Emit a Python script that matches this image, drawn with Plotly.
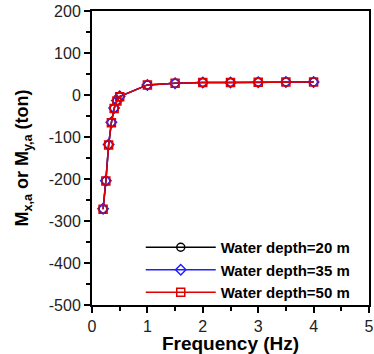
import plotly.graph_objects as go

freq = [0.2, 0.25, 0.3, 0.35, 0.4, 0.45, 0.5, 1.0, 1.5, 2.0, 2.5, 3.0, 3.5, 4.0]
m_20 = [-272, -205, -119, -66, -32, -14, -4, 24, 28, 30, 30, 30.5, 31, 31]
m_35 = [-271, -204, -118, -65, -31, -13, -3, 24, 28, 30, 30, 30.5, 31, 31]
m_50 = [-272, -205, -119, -66, -32, -14, -4, 24, 28, 30, 30, 30.5, 31, 31]
names = ["Water depth=20 m", "Water depth=35 m", "Water depth=50 m"]
y_ticks = [200, 100, 0, -100, -200, -300, -400, -500]
y_ticktext = ["200", "100", "0", "-100", "-200", "-300", "-400", "-500"]
x_ticks = [0, 1, 2, 3, 4, 5]

FONT = "Arial, Liberation Sans, sans-serif"

fig = go.Figure()
styles = [("black", "circle-open"), ("#2020ff", "diamond-open"), ("#e00000", "square-open")]
for y, name, (c, sym) in zip([m_20, m_35, m_50], names, styles):
    fig.add_trace(go.Scatter(
        x=freq, y=y, name="<b>" + name + "</b>", mode="lines+markers",
        line=dict(color=c, width=1.5),
        marker=dict(symbol=sym, size=8, color=c, line=dict(width=1.5, color=c)),
    ))

axis_common = dict(
    showline=True, linecolor="black", linewidth=2, mirror=True,
    ticks="outside", ticklen=6, tickwidth=1.5, tickcolor="black",
    showgrid=False, zeroline=False, automargin=False,
    tickfont=dict(family=FONT, size=16, color="#222"),
)
fig.update_xaxes(
    range=[0, 5], tickvals=x_ticks, ticktext=[str(v) for v in x_ticks],
    minor=dict(dtick=0.5, ticks="outside", ticklen=4, tickwidth=1.5, tickcolor="black"),
    title=dict(text="<b>Frequency (Hz)</b>", font=dict(family=FONT, size=19, color="black"), standoff=6),
    **axis_common,
)
fig.update_yaxes(
    range=[-500, 200], tickvals=y_ticks, ticktext=y_ticktext,
    minor=dict(dtick=50, ticks="outside", ticklen=4, tickwidth=1.5, tickcolor="black"),
    title=dict(text="<b>M<sub>x,a</sub> or M<sub>y,a</sub> (ton)</b>", font=dict(family=FONT, size=18, color="black")),
    **axis_common,
)
fig.update_layout(
    width=374, height=354,
    margin=dict(l=92, r=5, t=11, b=49),
    plot_bgcolor="white", paper_bgcolor="white",
    legend=dict(x=0.176, y=0.119, xanchor="left", yanchor="middle",
                bgcolor="rgba(0,0,0,0)", tracegroupgap=0, itemwidth=70,
                font=dict(family=FONT, size=15, color="black")),
    showlegend=True,
)
fig.write_html("out.html", config={"displayModeBar": False},
               post_script="document.body.style.margin='0';document.body.style.overflow='hidden';")
